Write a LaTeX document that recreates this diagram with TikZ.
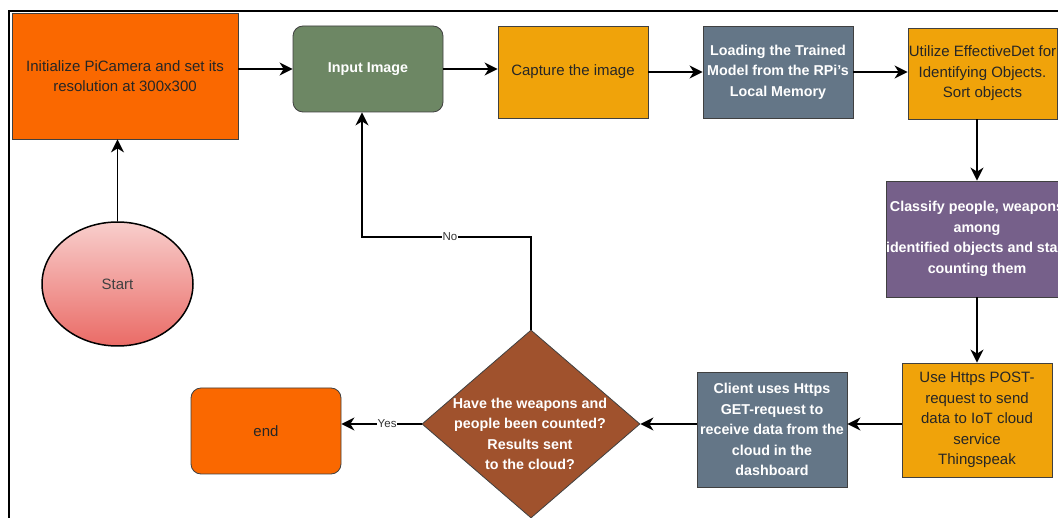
\documentclass[tikz,border=0pt]{standalone}
\usepackage{fontspec}
\setmainfont{Liberation Sans}
\usetikzlibrary{shapes.geometric,arrows.meta,calc}
\definecolor{cOrange}{HTML}{FA6800}
\definecolor{cGreen}{HTML}{6D8764}
\definecolor{cAmber}{HTML}{F0A30A}
\definecolor{cSlate}{HTML}{647687}
\definecolor{cPurple}{HTML}{76608A}
\definecolor{cBrown}{HTML}{A0522D}
\definecolor{cPinkTop}{HTML}{F8CECC}
\definecolor{cPinkBot}{HTML}{EA6B66}
\begin{document}
\begin{tikzpicture}[x=1pt,y=-1pt,
  box/.style={draw=black!75, line width=0.8pt, align=center, inner sep=0pt,
              font=\fontsize{15}{20.5}\selectfont},
  darktext/.style={text=black!85},
  lighttext/.style={text=white, font=\fontsize{14.3}{20.5}\selectfont\bfseries},
  arr/.style={draw=black, line width=1.7pt, -{Stealth[length=13pt,width=13pt,inset=4pt]}},
  lbl/.style={fill=white, inner sep=1pt, font=\fontsize{11.5}{13}\selectfont, text=black!80}
]
\useasboundingbox (0,0) rectangle (1058,518);
\clip (0,0) rectangle (1058,518);
\fill[white] (0,0) rectangle (1058,518);
% frame
\draw[line width=2pt] (9,520) -- (9,11) -- (1060,11);

% nodes
\node[box, fill=cOrange, darktext, minimum width=226pt, minimum height=126pt] (init) at (125,76)
  {Initialize PiCamera and set its\\resolution at 300x300};
\node[box, rounded corners=10pt, fill=cGreen, lighttext, minimum width=150pt, minimum height=86pt] (inp) at (368,69)
  {Input Image};
\node[box, fill=cAmber, darktext, minimum width=150pt, minimum height=92pt] (cap) at (573,72)
  {Capture the image};
\node[box, fill=cSlate, lighttext, minimum width=150pt, minimum height=92pt] (load) at (778,72)
  {Loading the Trained\\Model from the RPi's\\Local Memory};
\node[box, fill=cAmber, darktext, minimum width=149pt, minimum height=91pt] (util) at (982.5,73.5)
  {Utilize EffectiveDet for\\Identifying Objects.\\Sort objects};
\node[box, fill=cPurple, lighttext, minimum width=182pt, minimum height=116pt] (cls) at (977,239)
  {Classify people, weapons\\among\\identified objects and start\\counting them};
\node[box, fill=cAmber, darktext, minimum width=150pt, minimum height=114pt] (use) at (977,420)
  {Use Https POST-\\request to send\\data to IoT cloud\\service\\Thingspeak};
\node[box, fill=cSlate, lighttext, minimum width=150pt, minimum height=115pt] (client) at (772,429.5)
  {Client uses Https\\GET-request to\\receive data from the\\cloud in the\\dashboard};
\node[box, shape=diamond, fill=cBrown, minimum width=218pt, minimum height=188pt] (dia) at (531,424) {};
\node[box, draw=none, lighttext] (diatext) at (530,434)
  {Have the weapons and\\people been counted?\\Results sent\\to the cloud?};
\node[box, rounded corners=10pt, fill=cOrange, darktext, minimum width=150pt, minimum height=86pt] (endn) at (266,431)
  {end};
\node[box, shape=ellipse, draw=black, line width=1.5pt, top color=cPinkTop, bottom color=cPinkBot,
      text=black!75, minimum width=151pt, minimum height=124pt] (start) at (117.5,284) {Start};

% connectors
\coordinate (nob) at (362,237);
\draw[arr] (start.north) -- (start.north |- init.south);
\draw[arr] (init.east |- inp.west) -- (inp.west);
\draw[arr] (inp.east) -- (cap.west |- inp.east);
\draw[arr] (cap.east) -- (load.west);
\draw[arr] (load.east) -- (util.west |- load.east);
\draw[arr] (cls.north |- util.south) -- (cls.north);
\draw[arr] (cls.south) -- (use.north);
\draw[arr] (use.west |- dia) -- (client.east |- dia);
\draw[arr] (client.west |- dia) -- (dia.east);
\draw[arr] (dia.west) -- node[lbl, pos=0.43]{Yes} (endn.east |- dia);
\draw[arr] (dia.north) |- node[lbl, pos=0.74]{No} (nob) -- (inp.south -| nob);
\end{tikzpicture}
\end{document}
